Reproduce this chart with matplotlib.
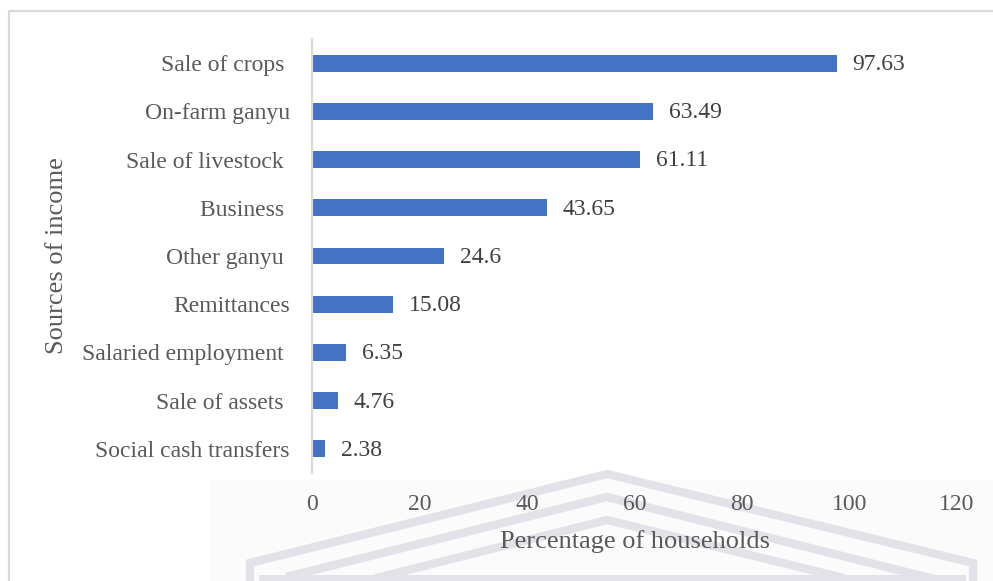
import numpy as np
import matplotlib.pyplot as plt
from matplotlib.lines import Line2D
from matplotlib.patches import Rectangle

# income sources, top to bottom
sources = ["Sale of crops ", "On-farm ganyu", "Sale of livestock ", "Business ",
           "Other ganyu ", "Remittances", "Salaried employment ", "Sale of assets ",
           "Social cash transfers"]
shares = [97.63, 63.49, 61.11, 43.65, 24.6, 15.08, 6.35, 4.76, 2.38]
share_labels = ["97.63", "63.49", "61.11", "43.65", "24.6", "15.08", "6.35", "4.76", "2.38"]
xticks = [0, 20, 40, 60, 80, 100, 120]

W, H = 993, 581
plt.rcParams['font.family'] = ['Liberation Serif', 'DejaVu Serif']
txt = '#595959'
fig = plt.figure(figsize=(W / 100, H / 100), dpi=100)

def px(x, y):
    # pixel position (origin top-left) -> figure fraction
    return x / W, 1 - y / H

# faint background watermark (logo chevrons), kept under the axes
fig.add_artist(Rectangle(px(210, 581), (W - 210) / W, 101 / H,
                         transform=fig.transFigure, color='#fbfbfc', zorder=-3))
wm = '#e2e2e8'
roofs = [
    [(250, 600), (250, 563), (607, 474), (973, 563), (973, 600)],
    [(290, 600), (290, 576), (607, 497), (930, 578)],
    [(380, 577), (607, 520), (840, 577)],
]
for r in roofs:
    xs, ys = zip(*[px(a, b) for a, b in r])
    fig.add_artist(Line2D(xs, ys, transform=fig.transFigure, color=wm, lw=6,
                          solid_joinstyle='miter', zorder=-2))
xs, ys = zip(px(262, 578), px(962, 578))
fig.add_artist(Line2D(xs, ys, transform=fig.transFigure, color=wm, lw=5, zorder=-2))

# chart frame
xs, ys = zip(px(8.5, 600), px(8.5, 10.5), px(991.5, 10.5))
fig.add_artist(Line2D(xs, ys, transform=fig.transFigure, color='#d9d9d9', lw=1.6))

ax = fig.add_axes([312 / W, (H - 473) / H, 645 / W, 434 / H])
ax.patch.set_alpha(0)
y = np.arange(len(sources))
ax.barh(y, shares, height=0.35, color='#4472C4', zorder=2)
for yi, v, lab in zip(y, shares, share_labels):
    ax.annotate(lab, (v, yi), xytext=(11.5, -1), textcoords='offset points',
                va='center', ha='left', fontsize=17, color='#404040')

ax.set_ylim(len(sources) - 0.5, -0.5)
ax.set_xlim(0, 120)
ax.set_xticks(xticks)
ax.set_yticks(y)
ax.set_yticklabels(sources)
ax.tick_params(axis='both', length=0, labelsize=17, labelcolor=txt)
ax.tick_params(axis='x', pad=15)
ax.tick_params(axis='y', pad=16)
for s in ['top', 'right', 'bottom']:
    ax.spines[s].set_visible(False)
ax.spines['left'].set_color('#d9d9d9')
ax.spines['left'].set_linewidth(1.6)

ax.set_xlabel('Percentage of households', fontsize=19, color=txt, labelpad=11)
ax.set_ylabel('Sources of income', fontsize=19, color=txt)
ax.yaxis.set_label_coords(-244 / 645, 0.5)

fig.savefig('out.png', dpi=100)
